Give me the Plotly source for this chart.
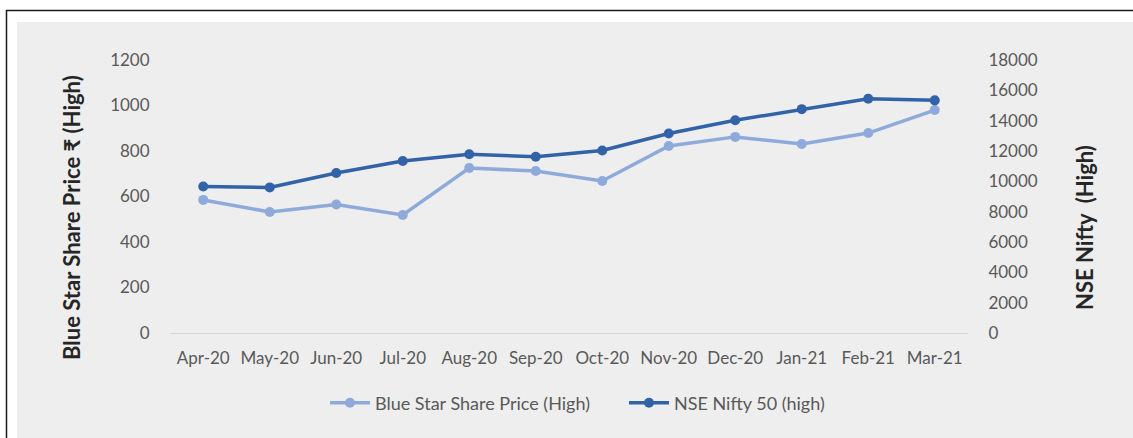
import plotly.graph_objects as go

months = ["Apr-20", "May-20", "Jun-20", "Jul-20", "Aug-20", "Sep-20",
          "Oct-20", "Nov-20", "Dec-20", "Jan-21", "Feb-21", "Mar-21"]
blue_star_high = [585, 532, 565, 519, 725, 712, 668, 822, 862, 831, 879, 980]
nifty_high = [9660, 9600, 10550, 11340, 11790, 11620, 12030, 13150, 14030, 14760, 15440, 15340]

left_ticks = [0, 200, 400, 600, 800, 1000, 1200]
right_ticks = [0, 2000, 4000, 6000, 8000, 10000, 12000, 14000, 16000, 18000]

LIGHT = "#8EAADB"
DARK = "#3262A7"
FONT = "Lato, Carlito, Calibri, sans-serif"
TICKCOL = "#595959"

W, H = 1133, 438
L, R, T, B = 170, 165, 60, 105
pw, ph = W - L - R, H - T - B

def px(x):
    return (x - L) / pw

def py(y):
    return (H - B - y) / ph

fig = go.Figure()
fig.add_trace(go.Scatter(
    x=months, y=blue_star_high, name="Blue Star Share Price (High)",
    mode="lines+markers", line=dict(color=LIGHT, width=3.5),
    marker=dict(size=10, color=LIGHT), yaxis="y"))
fig.add_trace(go.Scatter(
    x=months, y=nifty_high, name="NSE Nifty 50 (high)",
    mode="lines+markers", line=dict(color=DARK, width=3.5),
    marker=dict(size=10, color=DARK), yaxis="y2"))

fig.update_layout(
    width=W, height=H,
    margin=dict(l=L, r=R, t=T, b=B),
    paper_bgcolor="white", plot_bgcolor="rgba(0,0,0,0)",
    font=dict(family=FONT, color=TICKCOL, size=17),
    showlegend=True,
    legend=dict(orientation="h", x=px(325), xanchor="left", y=py(403), yanchor="middle",
                font=dict(size=18, color=TICKCOL, family=FONT), bgcolor="rgba(0,0,0,0)",
                entrywidth=244, entrywidthmode="pixels", itemwidth=40),
    xaxis=dict(type="category", showgrid=False, showline=True, linecolor="#d6d6d6", linewidth=1,
               ticks="outside", ticklen=10, tickcolor="rgba(0,0,0,0)", zeroline=False,
               tickfont=dict(size=17, color=TICKCOL), range=[-0.5, 11.5]),
    yaxis=dict(range=[0, 1200], tickvals=left_ticks, showgrid=False, zeroline=False,
               showline=False, ticks="outside", ticklen=16, tickcolor="rgba(0,0,0,0)",
               tickfont=dict(size=17, color=TICKCOL)),
    yaxis2=dict(range=[0, 18000], tickvals=right_ticks, ticktext=[str(v) for v in right_ticks],
                overlaying="y", side="right",
                showgrid=False, zeroline=False, showline=False, ticks="outside", ticklen=16,
                tickcolor="rgba(0,0,0,0)", tickfont=dict(size=17, color=TICKCOL)),
    shapes=[
        dict(type="rect", xref="paper", yref="paper", x0=px(6.5), x1=px(1150), y0=py(460), y1=py(10.5),
             line=dict(color="#1a1a1a", width=1.5), fillcolor="white", layer="below"),
        dict(type="rect", xref="paper", yref="paper", x0=px(17), x1=px(1150), y0=py(460), y1=py(22),
             line=dict(width=0), fillcolor="#eeeeee", layer="below"),
    ],
    annotations=[
        dict(text="<b>Blue Star Share Price ₹ (High)</b>", xref="paper", yref="paper",
             x=px(72), y=py(218), textangle=-90, showarrow=False,
             font=dict(size=22, color="#262626", family=FONT), xanchor="center", yanchor="middle"),
        dict(text="<b>NSE Nifty  (High)</b>", xref="paper", yref="paper",
             x=px(1084), y=py(228), textangle=-90, showarrow=False,
             font=dict(size=22, color="#262626", family=FONT), xanchor="center", yanchor="middle"),
    ],
)

fig.write_html("out.html", config={"displayModeBar": False},
               post_script="document.body.style.margin='0px';document.body.style.overflow='hidden';")
